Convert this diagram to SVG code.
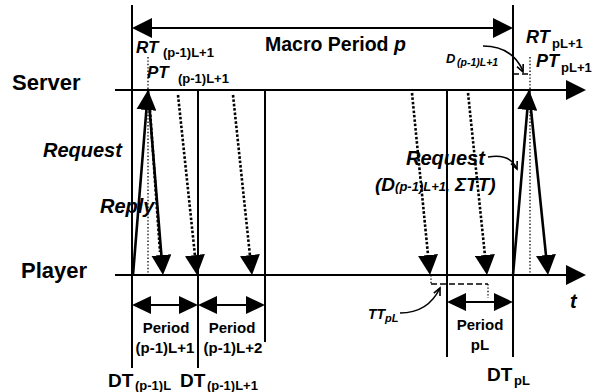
<svg xmlns="http://www.w3.org/2000/svg" width="603" height="392" viewBox="0 0 603 392">
<style>
.ln{stroke:#000;stroke-width:2;fill:none}
.th{stroke:#000;stroke-width:2.6;fill:none}
.dot{stroke:#000;stroke-width:2.6;stroke-dasharray:2.6 1.8;fill:none}
.tdot{stroke:#000;stroke-width:1.3;stroke-dasharray:1.4 2;fill:none}
.dash{stroke:#000;stroke-width:1.6;stroke-dasharray:6 3;fill:none}
.cv{stroke:#000;stroke-width:1.6;fill:none}
text{font-family:"Liberation Sans",Arial,Helvetica,sans-serif;font-weight:bold;fill:#000}
.it{font-style:italic}
</style>
<defs>
<marker id="ah" markerUnits="userSpaceOnUse" viewBox="0 0 20 20" refX="15" refY="10" markerWidth="20" markerHeight="20" orient="auto-start-reverse"><path d="M0,0 L20,10 L0,20 z" fill="#000"/></marker>
<marker id="ahs" markerUnits="userSpaceOnUse" viewBox="0 0 19 18" refX="14" refY="9" markerWidth="19" markerHeight="18" orient="auto-start-reverse"><path d="M0,0 L19,9 L0,18 z" fill="#000"/></marker>
</defs>

<g id="connectors">
  <line class="ln" x1="115" y1="90" x2="581" y2="90" marker-end="url(#ah)"/>
  <line class="ln" x1="115" y1="275" x2="581" y2="275" marker-end="url(#ah)"/>
  <line class="ln" x1="132" y1="5" x2="132" y2="368"/>
  <line class="ln" x1="513" y1="5" x2="513" y2="357"/>
  <line class="ln" x1="198" y1="90" x2="198" y2="368"/>
  <line class="ln" x1="265" y1="90" x2="265" y2="342"/>
  <line class="ln" x1="447" y1="90" x2="447" y2="357"/>
  <line class="ln" x1="137" y1="28" x2="508" y2="28" marker-start="url(#ah)" marker-end="url(#ah)"/>
  <line class="ln" x1="137" y1="305" x2="193" y2="305" marker-start="url(#ahs)" marker-end="url(#ahs)"/>
  <line class="ln" x1="203" y1="305" x2="260" y2="305" marker-start="url(#ahs)" marker-end="url(#ahs)"/>
  <line class="ln" x1="452" y1="302" x2="508" y2="302" marker-start="url(#ahs)" marker-end="url(#ahs)"/>
  <line class="tdot" x1="148" y1="57" x2="148" y2="275"/>
  <line class="dot" x1="150" y1="110" x2="160" y2="252"/>
  <line class="th" x1="133" y1="275" x2="147.6" y2="95" marker-end="url(#ah)"/>
  <line class="th" x1="148" y1="90" x2="162.6" y2="270" marker-end="url(#ah)"/>
  <line class="dot" x1="178" y1="95" x2="196.5" y2="270" marker-end="url(#ah)"/>
  <line class="dot" x1="233" y1="95" x2="251.5" y2="270" marker-end="url(#ah)"/>
  <line class="dot" x1="412" y1="93" x2="429.5" y2="270" marker-end="url(#ah)"/>
  <line class="dot" x1="468" y1="93" x2="486.5" y2="270" marker-end="url(#ah)"/>
  <line class="tdot" x1="530" y1="57" x2="530" y2="275"/>
  <line class="th" x1="513" y1="275" x2="528.6" y2="95" marker-end="url(#ah)"/>
  <line class="th" x1="529" y1="90" x2="547.5" y2="270" marker-end="url(#ah)"/>
  <line class="tdot" x1="431" y1="275" x2="431" y2="285"/>
  <line class="dash" x1="431" y1="284" x2="488" y2="284"/>
  <line class="tdot" x1="488" y1="284" x2="488" y2="298"/>
  <line class="dash" x1="513" y1="74" x2="530" y2="74" stroke-width="1.3"/>
  <path class="cv" d="M483,46 Q512,46 523,71"/>
  <path class="cv" d="M523.2,64 L523,72 L517,66.7"/>
  <path class="cv" d="M488,157 Q510,153 517,169"/>
  <path class="cv" d="M517.2,161 L517,169 L511,163.7"/>
  <path class="cv" d="M400,313 Q428,313 440,288"/>
  <path class="cv" d="M433.8,293.1 L440,288 L440,296"/>
</g>

<g id="server-label"><text x="12" y="90" font-size="22">Server</text></g>
<g id="player-label"><text x="21" y="278" font-size="22">Player</text></g>
<g id="macro-label"><text x="265" y="51" font-size="19.5">Macro Period <tspan class="it">p</tspan></text></g>
<g id="rt-left"><text x="136" y="53" font-size="17" class="it">RT</text><text x="163" y="57" font-size="13">(p-1)L+1</text></g>
<g id="pt-left"><text x="147" y="78" font-size="17" class="it">PT</text><text x="178" y="83" font-size="13">(p-1)L+1</text></g>
<g id="rt-right"><text x="526" y="43" font-size="18" class="it">RT</text><text x="552" y="48" font-size="13">pL+1</text></g>
<g id="pt-right"><text x="536" y="67" font-size="18" class="it">PT</text><text x="561" y="72" font-size="13">pL+1</text></g>
<g id="d-label"><text x="446" y="63" font-size="13" class="it">D</text><text x="457" y="66" font-size="10.5" class="it">(p-1)L+1</text></g>
<g id="request-left"><text x="43" y="157" font-size="20" class="it">Request</text></g>
<g id="reply-label"><text x="100" y="213" font-size="20" class="it">Reply</text></g>
<g id="request-right"><text x="406" y="165" font-size="20" class="it">Request</text>
<text x="375" y="191" font-size="19" class="it">(D<tspan font-size="13">(p-1)L+1,</tspan> ΣTT)</text></g>
<g id="t-label"><text x="570" y="308" font-size="20" class="it">t</text></g>
<g id="tt-label"><text x="368" y="319" font-size="14" class="it">TT</text><text x="385" y="322" font-size="11" class="it">pL</text></g>
<g id="period1"><text x="166" y="333" font-size="15" text-anchor="middle">Period</text><text x="165" y="353" font-size="15" text-anchor="middle">(p-1)L+1</text></g>
<g id="period2"><text x="232" y="333" font-size="15" text-anchor="middle">Period</text><text x="233" y="353" font-size="15" text-anchor="middle">(p-1)L+2</text></g>
<g id="periodpl"><text x="480" y="330" font-size="15" text-anchor="middle">Period</text><text x="480" y="350" font-size="15" text-anchor="middle">pL</text></g>
<g id="dt1"><text x="108" y="387" font-size="19">DT</text><text x="135" y="390" font-size="13">(p-1)L</text></g>
<g id="dt2"><text x="180" y="387" font-size="19">DT</text><text x="207" y="390" font-size="13">(p-1)L+1</text></g>
<g id="dt3"><text x="487" y="381" font-size="19">DT</text><text x="514" y="385" font-size="13">pL</text></g>
</svg>
